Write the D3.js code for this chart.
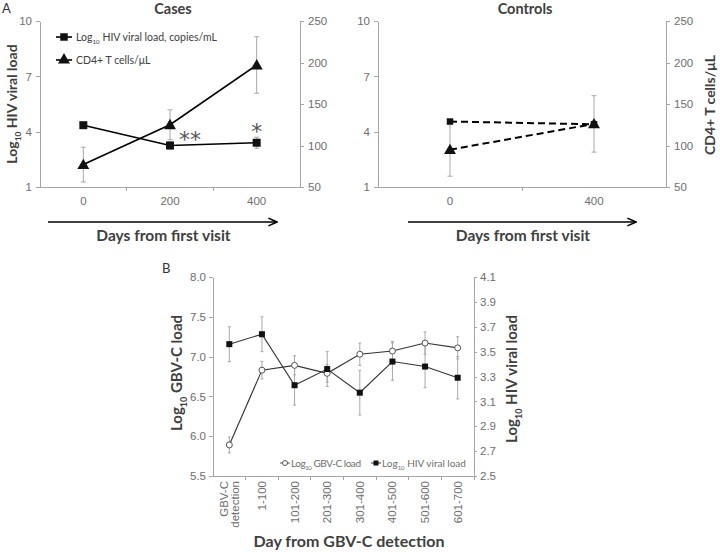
<!DOCTYPE html>
<html>
<head>
<meta charset="utf-8">
<script src="https://cdn.jsdelivr.net/npm/d3@7"></script>
<style>
body { margin: 0; background: #fff; }
svg { display: block; font-family: Lato, "Open Sans", sans-serif; }
.axis path, .axis line { stroke: #a6a6a6; stroke-width: 1; shape-rendering: crispEdges; }
.axis text { fill: #6e6e6e; font-size: 11.5px; }
.axisTitle { fill: #404040; font-weight: bold; }
.errBar { stroke: #a8a8a8; stroke-width: 1; fill: none; }
</style>
</head>
<body>
<script>
//panel A values
var casesDays = ["0", "200", "400"];
var casesViral = [4.35, 3.25, 3.40];
var casesViralErr = [0.12, 0.2, 0.3];
var casesCD4 = [77, 125, 197];
var casesCD4Err = [21, 18, 34];

var controlDays = ["0", "400"];
var controlViral = [4.55, 4.4];
var controlViralErr = [0.1, 0.1];
var controlCD4 = [95, 126];
var controlCD4Err = [32, 34];

var viralTicks = [1, 4, 7, 10];
var cd4Ticks = [50, 100, 150, 200, 250];

//panel B values
var gbvDays = ["GBV-C detection", "1-100", "101-200", "201-300", "301-400", "401-500", "501-600", "601-700"];
var gbvLoad = [5.89, 6.83, 6.89, 6.79, 7.03, 7.07, 7.17, 7.11];
var gbvLoadErr = [0.1, 0.11, 0.12, 0.11, 0.14, 0.12, 0.14, 0.14];
var hivLoad = [3.56, 3.64, 3.23, 3.36, 3.17, 3.42, 3.38, 3.29];
var hivLoadErr = [0.14, 0.14, 0.16, 0.14, 0.18, 0.15, 0.17, 0.17];
var gbvTicks = [5.5, 6.0, 6.5, 7.0, 7.5, 8.0];
var hivTicks = [2.5, 2.7, 2.9, 3.1, 3.3, 3.5, 3.7, 3.9, 4.1];

(function () {

    var width = 720, height = 552;

    var svg = d3.select("body")
        .append("svg")
        .attr("width", width)
        .attr("height", height);

    //arrow head for the "days" arrows
    svg.append("defs").append("marker")
        .attr("id", "arrow")
        .attr("viewBox", "0 0 10 10")
        .attr("refX", 9).attr("refY", 5)
        .attr("markerWidth", 6).attr("markerHeight", 6)
        .attr("orient", "auto")
        .append("path")
        .attr("d", "M0,1 L9,5 L0,9")
        .attr("fill", "none")
        .attr("stroke", "#000")
        .attr("stroke-width", 1.6);

    //panel letters
    svg.append("text").attr("x", 2).attr("y", 13).attr("font-size", 13).attr("fill", "#333").text("A");
    svg.append("text").attr("x", 162).attr("y", 273).attr("font-size", 13).attr("fill", "#333").text("B");

    drawPanelA({
        title: "Cases", left: 40, right: 300, top: 21, bottom: 187,
        days: casesDays, viral: casesViral, viralErr: casesViralErr,
        cd4: casesCD4, cd4Err: casesCD4Err, dashed: false,
        arrow: [48, 277], leftTitle: true, rightTitle: false, legend: true
    });
    drawPanelA({
        title: "Controls", left: 378, right: 666, top: 21, bottom: 187,
        days: controlDays, viral: controlViral, viralErr: controlViralErr,
        cd4: controlCD4, cd4Err: controlCD4Err, dashed: true,
        arrow: [408, 636], leftTitle: false, rightTitle: true, legend: false
    });
    drawPanelB();

    //label with a "10" subscript after "Log"
    function logLabel(sel, rest, size) {
        sel.append("tspan").text("Log");
        sel.append("tspan").attr("dy", size * 0.3).attr("font-size", size * 0.6).text("10");
        sel.append("tspan").attr("dy", -size * 0.3).text(rest);
    }

    function errorBars(g, data, x, y, cap) {
        var bars = g.selectAll(null).data(data).enter().append("g").attr("class", "errBar");
        bars.append("line")
            .attr("x1", function(d){ return x(d); }).attr("x2", function(d){ return x(d); })
            .attr("y1", function(d){ return y(d.v + d.e); }).attr("y2", function(d){ return y(d.v - d.e); });
        bars.append("line")
            .attr("x1", function(d){ return x(d) - cap; }).attr("x2", function(d){ return x(d) + cap; })
            .attr("y1", function(d){ return y(d.v + d.e); }).attr("y2", function(d){ return y(d.v + d.e); });
        bars.append("line")
            .attr("x1", function(d){ return x(d) - cap; }).attr("x2", function(d){ return x(d) + cap; })
            .attr("y1", function(d){ return y(d.v - d.e); }).attr("y2", function(d){ return y(d.v - d.e); });
    }

    function drawPanelA(o) {
        var g = svg.append("g");

        var xScale = d3.scaleBand().domain(o.days).range([o.left, o.right]);
        var yViral = d3.scaleLinear().domain([1, 10]).range([o.bottom, o.top]);
        var yCD4 = d3.scaleLinear().domain([50, 250]).range([o.bottom, o.top]);
        var xc = function(d){ return xScale(d.day) + xScale.bandwidth() / 2; };

        //axes
        g.append("g").attr("class", "axis")
            .attr("transform", "translate(" + o.left + ",0)")
            .call(d3.axisLeft(yViral).tickValues(viralTicks).tickSize(4).tickPadding(4).tickSizeOuter(0));
        g.append("g").attr("class", "axis")
            .attr("transform", "translate(" + o.right + ",0)")
            .call(d3.axisRight(yCD4).tickValues(cd4Ticks).tickSize(4).tickPadding(4).tickSizeOuter(0));

        var xAxis = g.append("g").attr("class", "axis")
            .attr("transform", "translate(0," + o.bottom + ")")
            .call(d3.axisBottom(xScale).tickSize(0).tickPadding(10).tickSizeOuter(0));
        //category boundary ticks
        xAxis.selectAll(".bound")
            .data(o.days.slice(1))
            .enter().append("line")
            .attr("x1", function(d){ return xScale(d); }).attr("x2", function(d){ return xScale(d); })
            .attr("y1", 0).attr("y2", 4);

        //titles
        g.append("text").attr("class", "axisTitle")
            .attr("x", (o.left + o.right) / 2 + 3).attr("y", 14)
            .attr("text-anchor", "middle").attr("font-size", 14.5)
            .text(o.title);

        g.append("line")
            .attr("x1", o.arrow[0]).attr("x2", o.arrow[1])
            .attr("y1", 222).attr("y2", 222)
            .attr("stroke", "#000").attr("stroke-width", 1.6)
            .attr("marker-end", "url(#arrow)");
        g.append("text").attr("class", "axisTitle")
            .attr("x", (o.arrow[0] + o.arrow[1]) / 2 + 1).attr("y", 241)
            .attr("text-anchor", "middle").attr("font-size", 15.5)
            .text("Days from first visit");

        if (o.leftTitle) {
            var lt = g.append("text").attr("class", "axisTitle")
                .attr("transform", "translate(17,104) rotate(-90)")
                .attr("text-anchor", "middle").attr("font-size", 14);
            logLabel(lt, " HIV viral load", 14);
        }
        if (o.rightTitle) {
            g.append("text").attr("class", "axisTitle")
                .attr("transform", "translate(715,105) rotate(-90)")
                .attr("text-anchor", "middle").attr("font-size", 14)
                .text("CD4+ T cells/\u03bcL");
        }

        var viralData = o.days.map(function(d, i){ return {day: d, v: o.viral[i], e: o.viralErr[i]}; });
        var cd4Data = o.days.map(function(d, i){ return {day: d, v: o.cd4[i], e: o.cd4Err[i]}; });

        errorBars(g, viralData, xc, yViral, 2.5);
        errorBars(g, cd4Data, xc, yCD4, 2.5);

        var lineViral = d3.line().x(xc).y(function(d){ return yViral(d.v); });
        var lineCD4 = d3.line().x(xc).y(function(d){ return yCD4(d.v); });

        [[viralData, lineViral], [cd4Data, lineCD4]].forEach(function(p){
            g.append("path").datum(p[0])
                .attr("d", p[1])
                .attr("fill", "none")
                .attr("stroke", "#000")
                .attr("stroke-width", o.dashed ? 2 : 1.6)
                .attr("stroke-dasharray", o.dashed ? "7,4" : null);
        });

        g.selectAll(".sq").data(viralData).enter().append("path")
            .attr("d", d3.symbol().type(d3.symbolSquare).size(o.dashed ? 42 : 64))
            .attr("transform", function(d){ return "translate(" + xc(d) + "," + yViral(d.v) + ")"; })
            .attr("fill", "#111");
        g.selectAll(".tri").data(cd4Data).enter().append("path")
            .attr("d", d3.symbol().type(d3.symbolTriangle).size(62))
            .attr("transform", function(d){ return "translate(" + xc(d) + "," + (yCD4(d.v) + 1) + ")"; })
            .attr("fill", "#111");

        if (o.legend) {
            var items = [
                {y: 37, sym: d3.symbolSquare, size: 56, label: "HIV viral load, copies/mL", log: true},
                {y: 60, sym: d3.symbolTriangle, size: 62, label: "CD4+ T cells/\u03bcL", log: false}
            ];
            items.forEach(function(it){
                g.append("line").attr("x1", 56).attr("x2", 72)
                    .attr("y1", it.y).attr("y2", it.y)
                    .attr("stroke", "#000").attr("stroke-width", 1.6);
                g.append("path").attr("d", d3.symbol().type(it.sym).size(it.size))
                    .attr("transform", "translate(64," + it.y + ")").attr("fill", "#111");
                var t = g.append("text").attr("x", 76).attr("y", it.y + 4)
                    .attr("font-size", 10.5).attr("fill", "#404040");
                if (it.log) logLabel(t, " " + it.label, 10.5);
                else t.text(it.label);
            });

            //significance marks
            g.append("text").attr("x", xc(viralData[1]) + 9).attr("y", 147)
                .attr("font-family", "'DejaVu Sans', sans-serif")
                .attr("font-size", 22).attr("fill", "#555").text("**");
            g.append("text").attr("x", xc(viralData[2])).attr("y", 139)
                .attr("font-family", "'DejaVu Sans', sans-serif")
                .attr("text-anchor", "middle").attr("font-size", 22).attr("fill", "#555").text("*");
        }
    }

    function drawPanelB() {
        var g = svg.append("g");
        var left = 213, right = 474, top = 277, bottom = 476;

        var xScale = d3.scaleBand().domain(gbvDays).range([left, right]);
        var yGbv = d3.scaleLinear().domain([5.5, 8.0]).range([bottom, top]);
        var yHiv = d3.scaleLinear().domain([2.5, 4.1]).range([bottom, top]);
        var xc = function(d){ return xScale(d.day) + xScale.bandwidth() / 2; };

        g.append("g").attr("class", "axis")
            .attr("transform", "translate(" + left + ",0)")
            .call(d3.axisLeft(yGbv).tickValues(gbvTicks).tickSize(4).tickPadding(3).tickSizeOuter(0)
                .tickFormat(d3.format(".1f")));
        g.append("g").attr("class", "axis")
            .attr("transform", "translate(" + right + ",0)")
            .call(d3.axisRight(yHiv).tickValues(hivTicks).tickSize(3).tickPadding(3).tickSizeOuter(0)
                .tickFormat(d3.format(".1f")));

        var xAxis = g.append("g").attr("class", "axis")
            .attr("transform", "translate(0," + bottom + ")")
            .call(d3.axisBottom(xScale).tickSize(0).tickSizeOuter(0).tickFormat(""));
        xAxis.selectAll(".bound")
            .data(gbvDays.slice(1).concat(["end"]))
            .enter().append("line")
            .attr("x1", function(d){ return d === "end" ? right : xScale(d); })
            .attr("x2", function(d){ return d === "end" ? right : xScale(d); })
            .attr("y1", 0).attr("y2", 4);

        //rotated category labels
        var labels = xAxis.selectAll(".lab")
            .data(gbvDays)
            .enter().append("text")
            .attr("fill", "#6e6e6e").attr("font-size", 12.5)
            .attr("text-anchor", "end")
            .attr("transform", function(d){
                return "translate(" + (xScale(d) + xScale.bandwidth() / 2) + ",5) rotate(-90)";
            });
        labels.each(function(d){
            var t = d3.select(this);
            if (d === "GBV-C detection") {
                t.append("tspan").attr("x", 0).attr("y", -1).text("GBV-C");
                t.append("tspan").attr("x", 0).attr("y", 10).text("detection");
            } else {
                t.append("tspan").attr("x", 0).attr("y", 4).text(d);
            }
        });

        g.append("text").attr("class", "axisTitle")
            .attr("x", 349).attr("y", 547)
            .attr("text-anchor", "middle").attr("font-size", 16)
            .text("Day from GBV-C detection");

        var lt = g.append("text").attr("class", "axisTitle")
            .attr("transform", "translate(182,373) rotate(-90)")
            .attr("text-anchor", "middle").attr("font-size", 15);
        logLabel(lt, " GBV-C load", 15);
        var rt = g.append("text").attr("class", "axisTitle")
            .attr("transform", "translate(517,379) rotate(-90)")
            .attr("text-anchor", "middle").attr("font-size", 15);
        logLabel(rt, " HIV viral load", 15);

        var gbvData = gbvDays.map(function(d, i){ return {day: d, v: gbvLoad[i], e: gbvLoadErr[i]}; });
        var hivData = gbvDays.map(function(d, i){ return {day: d, v: hivLoad[i], e: hivLoadErr[i]}; });

        errorBars(g, gbvData, xc, yGbv, 1.5);
        errorBars(g, hivData, xc, yHiv, 1.5);

        g.append("path").datum(gbvData)
            .attr("d", d3.line().x(xc).y(function(d){ return yGbv(d.v); }))
            .attr("fill", "none").attr("stroke", "#333").attr("stroke-width", 1.1);
        g.append("path").datum(hivData)
            .attr("d", d3.line().x(xc).y(function(d){ return yHiv(d.v); }))
            .attr("fill", "none").attr("stroke", "#333").attr("stroke-width", 1.1);

        g.selectAll(".circ").data(gbvData).enter().append("circle")
            .attr("cx", xc).attr("cy", function(d){ return yGbv(d.v); })
            .attr("r", 3).attr("fill", "#fff").attr("stroke", "#555").attr("stroke-width", 1);
        g.selectAll(".sq").data(hivData).enter().append("rect")
            .attr("x", function(d){ return xc(d) - 3; }).attr("y", function(d){ return yHiv(d.v) - 3; })
            .attr("width", 6).attr("height", 6).attr("fill", "#111");

        //legend
        g.append("line").attr("x1", 280).attr("x2", 290).attr("y1", 463).attr("y2", 463)
            .attr("stroke", "#555");
        g.append("circle").attr("cx", 285).attr("cy", 463).attr("r", 2.5)
            .attr("fill", "#fff").attr("stroke", "#555");
        var l1 = g.append("text").attr("x", 291).attr("y", 467).attr("font-size", 10)
            .attr("fill", "#6e6e6e").attr("textLength", 70);
        logLabel(l1, " GBV-C load", 10);

        g.append("line").attr("x1", 371).attr("x2", 381).attr("y1", 463).attr("y2", 463)
            .attr("stroke", "#333");
        g.append("rect").attr("x", 373.5).attr("y", 460.5).attr("width", 5).attr("height", 5).attr("fill", "#111");
        var l2 = g.append("text").attr("x", 382).attr("y", 467).attr("font-size", 10).attr("fill", "#6e6e6e");
        logLabel(l2, " HIV viral load", 10);
    }

})();
</script>
</body>
</html>
